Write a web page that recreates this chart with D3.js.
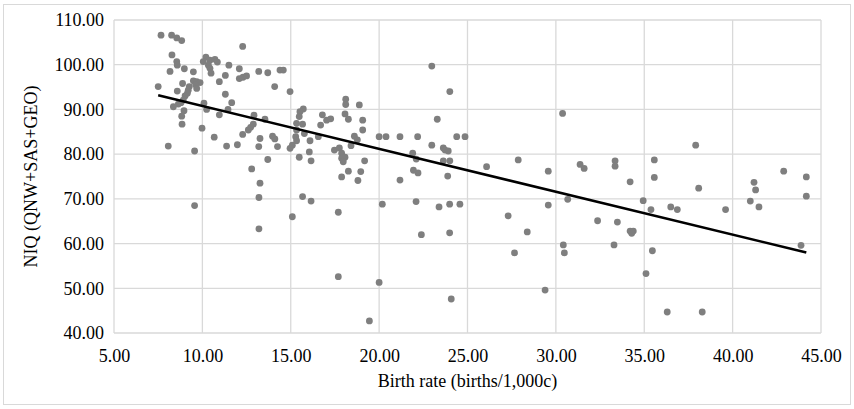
<!DOCTYPE html>
<html>
<head>
<meta charset="utf-8">
<script src="https://cdn.jsdelivr.net/npm/d3@7"></script>
<style>
  html, body { margin: 0; padding: 0; background: #fff; }
  svg { display: block; }
</style>
</head>
<body>
<svg id="chart" width="854" height="409"></svg>
<script>
// Birth rate (births per 1,000) for each country
const birthRate = [
  7.66, 8.26, 8.55, 8.83, 12.28, 8.28, 8.55, 8.58, 8.17, 8.98,
  9.49, 10.2, 10.43, 10.05, 10.71, 10.85, 10.34, 10.43, 10.49, 11.5,
  12.09, 11.3, 10.96, 12.09, 12.3, 12.5, 13.19, 13.7, 14.39, 14.58,
  9.49, 9.68, 9.87, 9.62, 8.88, 7.5, 8.58, 9.26, 9.2, 9.15,
  9.68, 9.02, 8.92, 8.79, 8.64, 8.36, 14.09, 14.96, 11.3, 11.66,
  10.09, 10.24, 10.96, 11.45, 8.96, 8.83, 8.85, 9.98, 10.67, 8.07,
  9.56, 11.37, 11.98, 12.28, 12.6, 12.73, 12.88, 12.92, 13.26, 13.19,
  13.97, 14.1, 14.25, 13.54, 13.7, 12.79, 14.96, 15.09, 13.26, 13.2,
  9.56, 15.09, 13.2, 22.98, 24.0, 18.11, 18.11, 18.88, 15.71, 15.52,
  15.48, 16.79, 17.03, 17.26, 16.69, 18.07, 18.26, 19.07, 19.07, 15.33,
  15.67, 15.33, 15.77, 15.28, 15.33, 16.09, 16.05, 16.15, 15.48, 16.56,
  18.6, 18.77, 18.41, 17.47, 17.75, 17.88, 17.88, 18.07, 17.97, 19.18,
  20.0, 20.39, 21.18, 22.18, 22.98, 23.29, 23.63, 23.73, 23.91, 24.39,
  24.86, 26.08, 18.26, 17.88, 18.96, 18.8, 15.67, 16.15, 17.69, 20.18,
  21.18, 21.9, 22.1, 21.94, 22.2, 22.09, 22.39, 23.39, 23.99, 24.57,
  23.99, 23.63, 24.0, 23.88, 17.69, 20.0, 24.08, 19.45, 30.38, 27.87,
  29.57, 31.37, 31.6, 33.35, 33.35, 34.2, 35.57, 35.57, 34.94, 35.38,
  36.5, 36.87, 27.3, 28.38, 29.57, 30.67, 32.36, 33.48, 34.2, 34.38,
  34.29, 27.66, 30.42, 30.48, 33.29, 35.46, 35.1, 29.39, 36.3, 38.28,
  37.91, 38.08, 39.6, 41.0, 41.21, 41.3, 41.49, 42.89, 44.17, 44.17,
  43.87
];

// National IQ (QNW+SAS+GEO) for the same countries, same order
const niq = [
  106.6, 106.6, 106.0, 105.4, 104.1, 102.2, 100.7, 99.9, 98.5, 99.1,
  98.4, 101.7, 101.0, 100.7, 101.2, 100.6, 99.9, 99.2, 98.1, 99.9,
  99.1, 97.6, 96.2, 96.9, 97.2, 97.5, 98.5, 98.2, 98.8, 98.8,
  96.4, 96.2, 96.0, 95.5, 95.8, 95.1, 94.1, 95.1, 94.3, 93.6,
  94.7, 93.0, 92.1, 91.5, 91.2, 90.6, 95.1, 94.0, 93.4, 91.5,
  91.4, 90.0, 88.8, 90.0, 89.7, 88.5, 86.7, 85.8, 83.8, 81.8,
  80.7, 81.8, 82.1, 84.4, 85.4, 86.0, 86.7, 88.7, 83.5, 81.7,
  84.0, 83.4, 81.7, 87.8, 78.8, 76.7, 81.3, 82.0, 73.5, 70.3,
  68.5, 66.0, 63.3, 99.7, 94.0, 92.3, 91.1, 91.0, 90.1, 89.5,
  88.4, 88.8, 87.6, 87.9, 86.5, 89.0, 87.8, 87.6, 85.4, 86.9,
  86.7, 85.4, 84.6, 83.9, 83.0, 83.0, 80.5, 78.5, 79.3, 83.9,
  84.0, 83.2, 81.9, 80.9, 81.4, 80.2, 79.1, 79.3, 78.3, 78.5,
  83.9, 83.9, 83.9, 83.9, 82.0, 87.8, 81.4, 80.9, 80.7, 83.9,
  83.9, 77.2, 76.2, 74.9, 76.1, 74.1, 70.5, 69.5, 67.0, 68.8,
  74.2, 80.2, 78.9, 76.4, 75.8, 69.4, 62.0, 68.2, 68.8, 68.8,
  62.4, 78.5, 78.5, 75.1, 52.6, 51.3, 47.6, 42.7, 89.1, 78.7,
  76.2, 77.7, 76.8, 78.5, 77.3, 73.8, 78.7, 74.8, 69.6, 67.6,
  68.2, 67.6, 66.2, 62.6, 68.6, 69.9, 65.1, 64.8, 62.8, 62.8,
  62.3, 57.9, 59.7, 57.9, 59.7, 58.4, 53.3, 49.6, 44.7, 44.7,
  82.0, 72.4, 67.6, 69.5, 73.7, 72.0, 68.2, 76.2, 74.9, 70.6,
  59.6
];

// Tick values for both axes
const xTicks = [5, 10, 15, 20, 25, 30, 35, 40, 45];
const yTicks = [40, 50, 60, 70, 80, 90, 100, 110];

// Linear trendline: NIQ = trendIntercept + trendSlope * birthRate
const trendSlope = -0.959;
const trendIntercept = 100.36;

const xTitle = "Birth rate (births/1,000c)";
const yTitle = "NIQ (QNW+SAS+GEO)";

const svg = d3.select("#chart");
const W = 854, H = 409;
const margin = { left: 114, right: 33, top: 20, bottom: 76 };
const font = "'Liberation Serif', 'Times New Roman', serif";
const fontSize = 18;

// Light outer frame of the chart area
svg.append("rect")
  .attr("x", 3.5).attr("y", 4.5)
  .attr("width", W - 7).attr("height", H - 9)
  .attr("fill", "#fff").attr("stroke", "#d9d9d9").attr("stroke-width", 1);

const x = d3.scaleLinear().domain([5, 45]).range([margin.left, W - margin.right]);
const y = d3.scaleLinear().domain([40, 110]).range([H - margin.bottom, margin.top]);

// Gridlines
const grid = svg.append("g").attr("stroke", "#d9d9d9").attr("stroke-width", 1.3);
grid.selectAll("line.v").data(xTicks).join("line")
  .attr("class", "v")
  .attr("x1", d => x(d)).attr("x2", d => x(d))
  .attr("y1", y(40)).attr("y2", y(110));
grid.selectAll("line.h").data(yTicks).join("line")
  .attr("class", "h")
  .attr("x1", x(5)).attr("x2", x(45))
  .attr("y1", d => y(d)).attr("y2", d => y(d));

// Axes (labels only; lines come from the grid)
const xAxis = svg.append("g")
  .attr("transform", `translate(0,${y(40)})`)
  .call(d3.axisBottom(x).tickValues(xTicks).tickFormat(d3.format(".2f")).tickSize(0).tickPadding(16));
const yAxis = svg.append("g")
  .attr("transform", `translate(${x(5)},0)`)
  .call(d3.axisLeft(y).tickValues(yTicks).tickFormat(d3.format(".2f")).tickSize(0).tickPadding(10));
[xAxis, yAxis].forEach(g => {
  g.select(".domain").remove();
  g.selectAll("text")
    .attr("font-family", font).attr("font-size", fontSize).attr("fill", "#000");
});

// Scatter points
const pts = birthRate.map((b, i) => ({ b, q: niq[i] }));
svg.append("g").selectAll("circle").data(pts).join("circle")
  .attr("cx", d => x(d.b)).attr("cy", d => y(d.q))
  .attr("r", 3.4).attr("fill", "#7f7f7f");

// Trendline across the range of the data
const [bMin, bMax] = d3.extent(birthRate);
svg.append("line")
  .attr("x1", x(bMin)).attr("y1", y(trendIntercept + trendSlope * bMin))
  .attr("x2", x(bMax)).attr("y2", y(trendIntercept + trendSlope * bMax))
  .attr("stroke", "#000").attr("stroke-width", 2.6);

// Axis titles
svg.append("text")
  .attr("x", (x(5) + x(45)) / 2).attr("y", 387)
  .attr("text-anchor", "middle")
  .attr("font-family", font).attr("font-size", fontSize)
  .text(xTitle);
svg.append("text")
  .attr("transform", `translate(37,${(y(40) + y(110)) / 2}) rotate(-90)`)
  .attr("text-anchor", "middle")
  .attr("font-family", font).attr("font-size", fontSize)
  .text(yTitle);
</script>
</body>
</html>
